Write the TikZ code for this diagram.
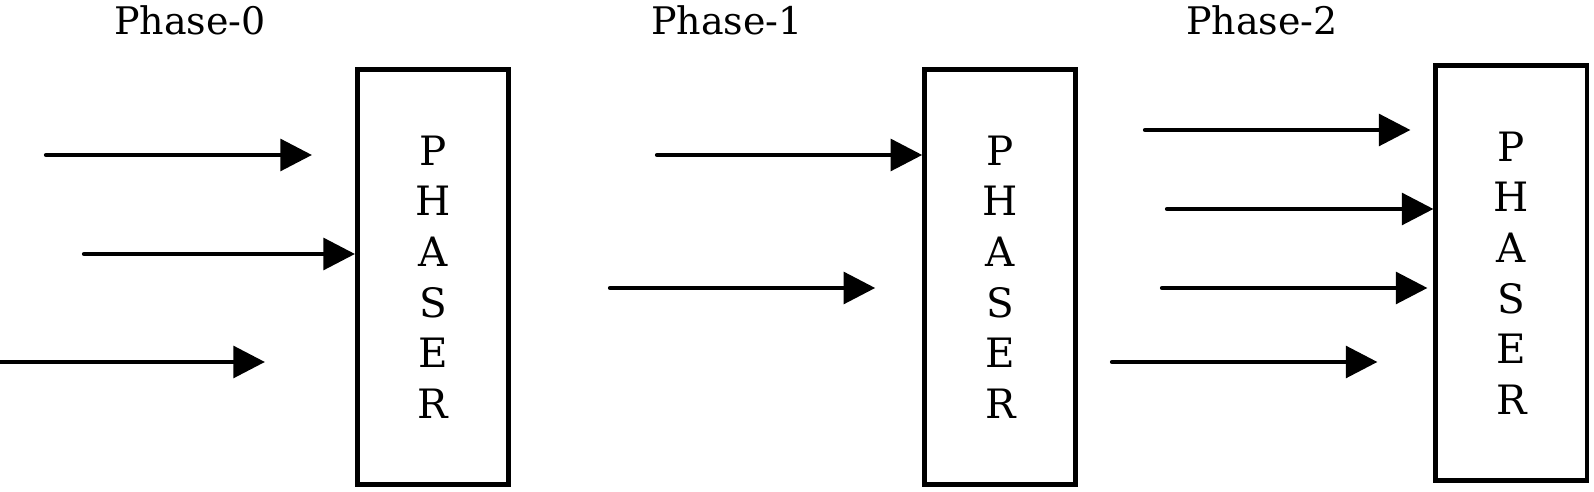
\documentclass[tikz,border=0pt]{standalone}
\usepackage{fontspec}
\setmainfont{DejaVu Serif}
\usepackage{tikz}
\usetikzlibrary{arrows.meta, positioning}

\begin{document}
\begin{tikzpicture}[>={Triangle[length=9pt,width=9pt]}, x=0.01cm, y=-0.01cm, semithick]
\tikzstyle{phaser}=[draw=black, line width=1.4pt, minimum width=1.51cm, minimum height=4.15cm, inner sep=0pt, align=center, font=\fontsize{11.5}{14.4}\selectfont]
\tikzstyle{flow}=[->, line width=1.2pt, line cap=round]
\tikzstyle{phase}=[anchor=base, font=\fontsize{10.8}{13}\selectfont]

\useasboundingbox (0,0) rectangle (1594,492);

\node[phaser] (box1) at (433,277) {P\\H\\A\\S\\E\\R};
\node[phaser] (box2) [right=4.11cm of box1] {P\\H\\A\\S\\E\\R};
\node[phaser] (box3) [right=3.55cm of box2, yshift=0.04cm] {P\\H\\A\\S\\E\\R};

\node[phase] (ph0) at (190,35) {Phase-0};
\node[phase] (ph1) at (727,35) {Phase-1};
\node[phase] (ph2) at (1262,35) {Phase-2};

\coordinate (in01) at (46,155);
\coordinate (in02) at (84,254);
\coordinate (in03) at (0,362);
\coordinate (in11) at (657,155);
\coordinate (in12) at (610,288);
\coordinate (in21) at (1145,130);
\coordinate (in22) at (1167,209);
\coordinate (in23) at (1162,288);
\coordinate (in24) at (1112,362);

\path[flow] (in01) edge ([xshift=-0.43cm]in01 -| box1.west);
\path[flow] (in02) edge (in02 -| box1.west);
\path[flow] (in03) edge ([xshift=-0.9cm]in03 -| box1.west);

\path[flow] (in11) edge (in11 -| box2.west);
\path[flow] (in12) edge ([xshift=-0.47cm]in12 -| box2.west);

\path[flow] (in21) edge ([xshift=-0.23cm]in21 -| box3.west);
\path[flow] (in22) edge (in22 -| box3.west);
\path[flow] (in23) edge ([xshift=-0.06cm]in23 -| box3.west);
\path[flow] (in24) edge ([xshift=-0.56cm]in24 -| box3.west);
\end{tikzpicture}
\end{document}
